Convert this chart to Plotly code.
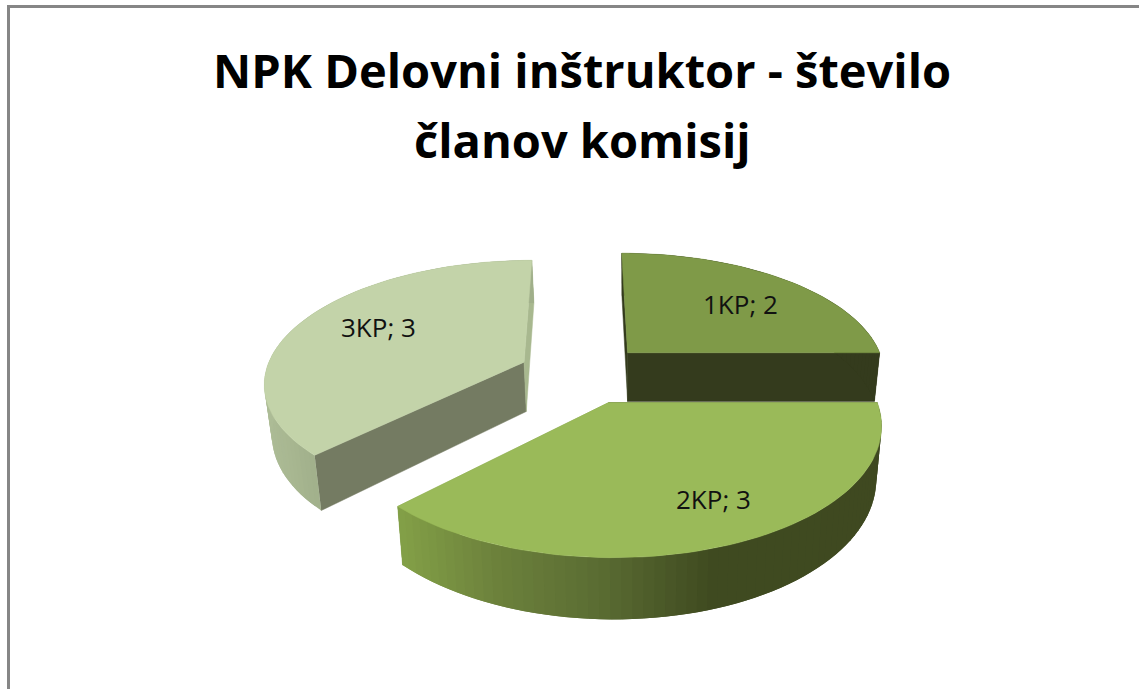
import math
import plotly.graph_objects as go

# --- data ---
categories = ["1KP", "2KP", "3KP"]
values = [2, 3, 3]
title_lines = ["NPK Delovni inštruktor - število", "članov komisij"]

# --- styles ---
top_colors = ["#7f9a48", "#9aba59", "#c3d3a9"]
cut_start_colors = ["#333a1c", "#3e4920", "#747b62"]
cut_end_colors = ["#343b1d", "#7f9c46", "#a8b88f"]
rim_stops = [
    [(0, "#343b1d"), (1139, "#343b1d")],
    [(398, "#83a047"), (500, "#6b803b"), (600, "#5a6c32"), (712, "#3f4a20"), (1139, "#3e4820")],
    [(260, "#aebd97"), (320, "#a0af8a")],
]
label_polar = [(48.3, 0.657), (153.4, 0.754), (296.1, 0.676)]
FONT = "Open Sans"

# --- projection of the 3D pie onto the page ---
CX, CY, A, B, K, H, EXPLODE = 583, 373.6, 259, 121, 0.155, 50, 0.25
VANISH, SHRINK = 630, 0.021


def project(x, y, bottom=False):
    w = 1 + K * y
    sx = CX + A * x / w
    sy = CY - B * y / w
    if bottom:
        sy += H / w
        sx += (VANISH - sx) * SHRINK
    return sx, sy


def hex2rgb(c):
    return [int(c[i:i + 2], 16) for i in (1, 3, 5)]


def rim_color(stops, sx):
    if sx <= stops[0][0]:
        return stops[0][1]
    for (x0, c0), (x1, c1) in zip(stops, stops[1:]):
        if sx <= x1:
            t = (sx - x0) / (x1 - x0)
            a, b = hex2rgb(c0), hex2rgb(c1)
            return "rgb(%d,%d,%d)" % tuple(round(p + (q - p) * t) for p, q in zip(a, b))
    return stops[-1][1]


fig = go.Figure()


def poly(pts, color, seal=0.0):
    xs = [p[0] for p in pts] + [pts[0][0]]
    ys = [p[1] for p in pts] + [pts[0][1]]
    fig.add_trace(go.Scatter(
        x=xs, y=ys, mode="lines", fill="toself", fillcolor=color,
        line=dict(color=color, width=seal), hoverinfo="skip", showlegend=False))


total = sum(values)
starts, acc = [], 0.0
for v in values:
    starts.append(acc)
    acc += 360.0 * v / total

slices = []
for i, v in enumerate(values):
    a0 = starts[i]
    a1 = a0 + 360.0 * v / total
    mid = math.radians((a0 + a1) / 2)
    slices.append(dict(i=i, a0=a0, a1=a1, ox=EXPLODE * math.sin(mid), oy=EXPLODE * math.cos(mid)))


def pt(s, deg, r=1.0):
    t = math.radians(deg)
    return s["ox"] + r * math.sin(t), s["oy"] + r * math.cos(t)


# painter's order: back slices first, front slice last
for idx in (2, 0, 1):
    s = slices[idx]
    n = max(8, int((s["a1"] - s["a0"]) / 2))
    angs = [s["a0"] + (s["a1"] - s["a0"]) * j / n for j in range(n + 1)]
    apex = (s["ox"], s["oy"])

    # the two cut faces
    for deg, col in ((s["a0"], cut_start_colors[idx]), (s["a1"], cut_end_colors[idx])):
        e = pt(s, deg)
        poly([project(*apex), project(*e), project(*e, bottom=True), project(*apex, bottom=True)], col, 0.5)

    # outer rim as shaded strips; each strip runs under the next one, so no seams show
    for j in range(n):
        chain = [pt(s, angs[k]) for k in range(j, min(j + 2, n) + 1)]
        tops = [project(*c) for c in chain]
        bots = [project(*c, bottom=True) for c in reversed(chain)]
        poly(tops + bots, rim_color(rim_stops[idx], (tops[0][0] + tops[1][0]) / 2))

    # top face
    poly([project(*apex)] + [project(*pt(s, a)) for a in angs], top_colors[idx], 0.5)

# data labels
for s, (deg, r), cat, v in zip(slices, label_polar, categories, values):
    lx, ly = project(*pt(s, deg, r))
    fig.add_annotation(x=lx, y=ly, yshift=2, text=f"{cat}; {v}", showarrow=False,
                       font=dict(family=FONT, size=26, color="#111111"))

# title
for line, y in zip(title_lines, (70, 140)):
    fig.add_annotation(x=582, y=y, text=f"<b>{line}</b>", showarrow=False,
                       font=dict(family=FONT, size=47, color="#000000"))

# chart frame (only top and left edges fall inside the page)
fig.add_shape(type="rect", x0=8.5, y0=6.5, x1=1200, y1=800, line=dict(color="#868686", width=3), layer="below")

fig.update_layout(
    width=1139, height=689, margin=dict(l=0, r=0, t=0, b=0),
    paper_bgcolor="white", plot_bgcolor="white", showlegend=False,
    xaxis=dict(range=[0, 1139], visible=False, fixedrange=True),
    yaxis=dict(range=[689, 0], visible=False, fixedrange=True),
)
fig.write_html("out.html", post_script="document.body.style.margin='0';document.body.style.overflow='hidden';",
               config=dict(displayModeBar=False))
